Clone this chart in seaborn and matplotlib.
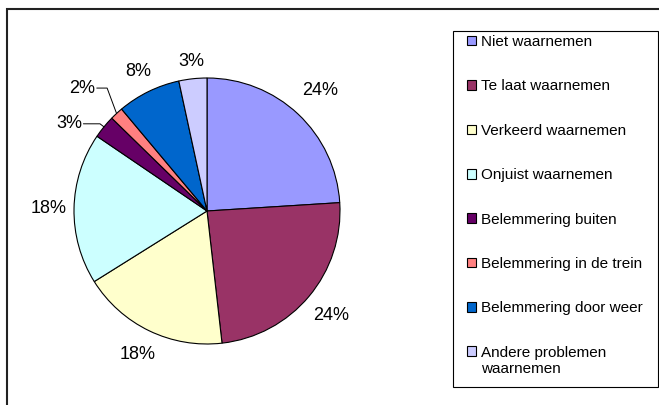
import numpy as np
import matplotlib
matplotlib.use("Agg")
import matplotlib.pyplot as plt
from matplotlib.patches import Rectangle
import seaborn as sns

# data (share of each category, %)
categories = ["Niet waarnemen", "Te laat waarnemen", "Verkeerd waarnemen",
              "Onjuist waarnemen", "Belemmering buiten", "Belemmering in de trein",
              "Belemmering door weer", "Andere problemen\nwaarnemen"]
shares = [24.0, 24.2, 17.9, 18.4, 2.8, 1.6, 7.7, 3.4]
colors = ["#9999FF", "#993366", "#FFFFCC", "#CCFFFF",
          "#660066", "#FF8080", "#0066CC", "#CCCCFF"]

sns.set_style("white")
plt.rcParams["font.family"] = ["Liberation Sans", "DejaVu Sans"]
plt.rcParams["text.color"] = "black"

W, H = 659, 405
fig = plt.figure(figsize=(W / 100, H / 100), dpi=100)

# pie axes: center (207, 211) px, radius 133 px
r_px = 133
lim = 1.45
half = lim * r_px
cx, cy = 207, 211
ax = fig.add_axes([(cx - half) / W, (H - cy - half) / H, 2 * half / W, 2 * half / H])

wedges, _ = ax.pie(shares, colors=colors, startangle=90, counterclock=False,
                   radius=1, wedgeprops=dict(edgecolor="black", linewidth=0.8))
ax.set_xlim(-lim, lim)
ax.set_ylim(-lim, lim)
ax.axis("off")

# label distances per slice (None = with leader line)
label_dist = [1.24, 1.22, 1.2, 1.19, None, None, 1.17, 1.13]
leaders = {4: (-0.03, 0.023, 0.125), 5: (-0.071, 0.191, 0.078)}
for i, w in enumerate(wedges):
    mid = np.deg2rad((w.theta1 + w.theta2) / 2)
    txt = f"{shares[i]:.0f}%"
    if label_dist[i] is not None:
        d = label_dist[i]
        ax.text(d * np.cos(mid), d * np.sin(mid), txt, ha="center", va="center",
                fontsize=13)
    else:
        dx, dy, hl = leaders[i]
        ex, ey = np.cos(mid), np.sin(mid)
        bx, by = ex + dx, ey + dy
        ax.plot([ex, bx, bx - hl], [ey, by, by], color="black", lw=0.7)
        ax.text(bx - hl - 0.01, by, txt, ha="right", va="center", fontsize=13)

# outer chart frame
fig.add_artist(Rectangle((6.5 / W, -0.1), 1.2, 1 - 9.5 / H + 0.1,
                         transform=fig.transFigure, fill=False,
                         edgecolor="#222222", linewidth=1.5))
# legend frame
fig.add_artist(Rectangle((453 / W, 1 - 387 / H), (658 - 453) / W, (387 - 30.5) / H,
                         transform=fig.transFigure, fill=False,
                         edgecolor="black", linewidth=0.8))

leg = fig.legend(wedges, categories, loc="upper left",
                 bbox_to_anchor=(466.5 / W, 1 - 35 / H), frameon=False,
                 borderpad=0, borderaxespad=0, fontsize=11,
                 handlelength=0.6, handleheight=0.6, handletextpad=0.35,
                 labelspacing=1.99)
# two-line entry: square next to the first line
for col in leg._legend_handle_box.get_children():
    rows = col.get_children()
    rows[-1].align = "top"

fig.savefig("out.png", dpi=100)
